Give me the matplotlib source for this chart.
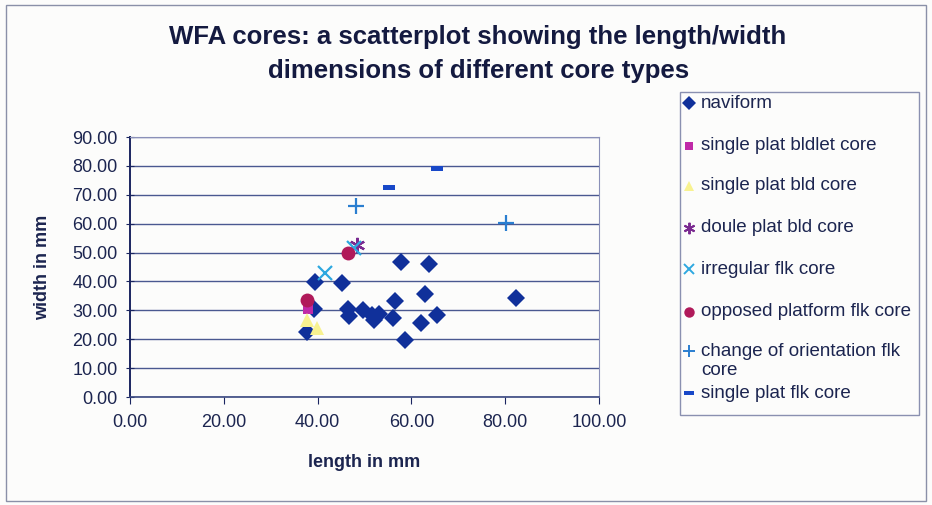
import matplotlib
matplotlib.use("Agg")
import matplotlib.pyplot as plt
from matplotlib.lines import Line2D
from matplotlib.patches import Rectangle
from matplotlib.ticker import FormatStrFormatter

# core measurements (length, width) in mm, one list per core type
naviform_len = [37.7, 39.3, 39.4, 45.3, 46.5, 46.8, 49.7, 51.5, 52.0, 53.0,
                56.1, 56.5, 57.8, 58.6, 62.0, 62.9, 63.8, 65.4, 82.2]
naviform_wid = [22.5, 30.4, 39.8, 39.6, 30.4, 28.1, 30.0, 28.5, 26.8, 28.9,
                27.4, 33.3, 46.6, 19.8, 25.5, 35.8, 46.2, 28.5, 34.2]
bladelet_len = [38.0]
bladelet_wid = [30.3]
blade_len = [37.7, 39.8]
blade_wid = [26.6, 23.8]
double_len = [48.3]
double_wid = [52.6]
irregular_len = [41.6, 47.8]
irregular_wid = [43.0, 51.5]
opposed_len = [46.5, 37.8]
opposed_wid = [49.7, 33.6]
orientation_len = [48.1, 80.2]
orientation_wid = [66.1, 60.1]
flake_len = [55.3, 65.4]
flake_wid = [72.8, 79.1]

labels = ["naviform", "single plat bldlet core", "single plat bld core",
          "doule plat bld core", "irregular flk core", "opposed platform flk core",
          "change of orientation flk\ncore", "single plat flk core"]

text_col = "#1c2550"
dash = [(-1, -0.4), (1, -0.4), (1, 0.4), (-1, 0.4)]
asterisk = (6, 2, 0)

# marker, size, colour for each series
styles = [
    ("D", 9, "#10309a"),
    ("s", 7.5, "#c02aa8"),
    ("^", 10, "#f8f290"),
    (asterisk, 11, "#7a2a90"),
    ("x", 10, "#2ea8e0"),
    ("o", 10, "#b01a5a"),
    ("+", 11, "#2a7ed0"),
    (dash, 9, "#1848c8"),
]
series = [(naviform_len, naviform_wid), (bladelet_len, bladelet_wid),
          (blade_len, blade_wid), (double_len, double_wid),
          (irregular_len, irregular_wid), (opposed_len, opposed_wid),
          (orientation_len, orientation_wid), (flake_len, flake_wid)]

fig = plt.figure(figsize=(9.32, 5.05), dpi=100, facecolor="#fcfcfb")
fig.patches.append(Rectangle((6 / 932, 4 / 505), 920 / 932, 496 / 505,
                             transform=fig.transFigure, fill=False,
                             edgecolor="#8a90a8", lw=1))

ax = fig.add_axes([130 / 932, 1 - 397 / 505, 469 / 932, 260 / 505])
ax.set_facecolor("#fcfcfb")

for (xs, ys), (m, s, c) in zip(series, styles):
    lw = 1.6 if m in ("x", "+", asterisk) else 0
    ax.plot(xs, ys, linestyle="none", marker=m, markersize=s,
            color=c, markeredgecolor=c, markeredgewidth=lw, zorder=3)

ax.set_xlim(0, 100)
ax.set_ylim(0, 90)
ax.set_xticks(range(0, 101, 20))
ax.set_yticks(range(0, 91, 10))
ax.xaxis.set_major_formatter(FormatStrFormatter("%.2f"))
ax.yaxis.set_major_formatter(FormatStrFormatter("%.2f"))
ax.grid(axis="y", color="#4a5890", lw=1)
ax.set_axisbelow(True)
for side in ("top", "right"):
    ax.spines[side].set_color("#8a90b8")
    ax.spines[side].set_linewidth(0.8)
ax.spines["left"].set_color("#1a2560")
ax.spines["left"].set_linewidth(1.4)
ax.spines["bottom"].set_color("#3a4880")
ax.spines["bottom"].set_linewidth(1.2)
ax.tick_params(axis="y", direction="inout", length=6, color="#1a2560",
               labelsize=13, labelcolor=text_col, pad=6)
ax.tick_params(axis="x", direction="out", length=5, color="#1a2560",
               labelsize=13, labelcolor=text_col, pad=7)
for t in ax.get_xticklabels() + ax.get_yticklabels():
    t.set_family("Liberation Sans")

ax.set_xlabel("length in mm", fontsize=13, fontweight="bold",
              family="Liberation Sans", color=text_col, labelpad=17)
ax.set_ylabel("width in mm", fontsize=13, fontweight="bold",
              family="Liberation Sans", color=text_col, labelpad=15)

fig.text(0.513, 0.926, "WFA cores: a scatterplot showing the length/width",
         ha="center", va="center", fontsize=18.5, fontweight="bold",
         family="Liberation Sans", color="#141a40")
fig.text(0.513, 0.859, "dimensions of different core types",
         ha="center", va="center", fontsize=18.5, fontweight="bold",
         family="Liberation Sans", color="#141a40")

# legend box drawn by hand so the entry spacing follows the chart
fig.patches.append(Rectangle((680 / 932, 1 - 415 / 505), 239 / 932, 323 / 505,
                             transform=fig.transFigure, fill=False,
                             edgecolor="#8a90b0", lw=1))
entry_y = [103, 146, 186, 228, 269, 312, 361, 393]
for lab, (m, s, c), y in zip(labels, styles, entry_y):
    yy = 1 - y / 505
    lw = 1.4 if m in ("x", "+", asterisk) else 0
    ym = 1 - 351 / 505 if "\n" in lab else yy
    fig.lines.append(Line2D([689 / 932], [ym], marker=m, markersize=s * 0.75,
                            color=c, markeredgecolor=c, markeredgewidth=lw,
                            linestyle="none", transform=fig.transFigure))
    fig.text(701 / 932, yy, lab, ha="left", va="center", fontsize=13.5,
             family="Liberation Sans", color=text_col, linespacing=1.1)

fig.savefig("out.png", dpi=100, facecolor=fig.get_facecolor())
